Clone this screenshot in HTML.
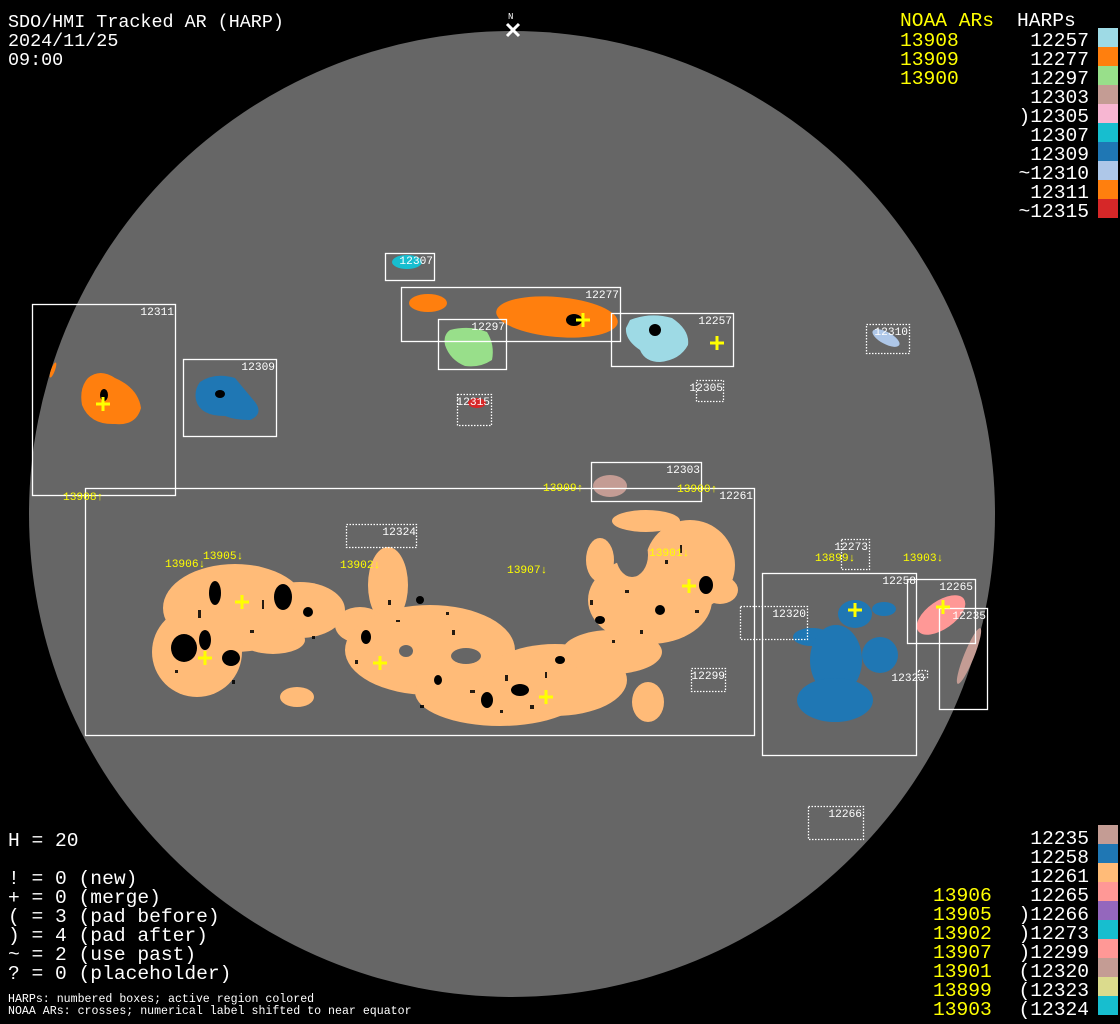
<!DOCTYPE html>
<html><head><meta charset="utf-8"><style>
html,body{margin:0;padding:0;background:#000;}
svg{display:block;}
.t{font-family:"Liberation Mono","DejaVu Sans Mono",monospace;font-size:19.6px;fill:#fff;}
.tt{font-family:"Liberation Mono","DejaVu Sans Mono",monospace;font-size:18.4px;fill:#fff;}
.y{fill:#ffff00;}
.s{font-family:"Liberation Mono","DejaVu Sans Mono",monospace;font-size:11.2px;fill:#fff;}
.sm{font-family:"Liberation Mono","DejaVu Sans Mono",monospace;font-size:11.6px;fill:#fff;}
.sy{font-family:"Liberation Mono","DejaVu Sans Mono",monospace;font-size:11.2px;fill:#ffff00;}
.b{fill:none;stroke:#fff;stroke-width:1.3;}
.d{fill:none;stroke:#fff;stroke-width:1.3;stroke-dasharray:1.5 1.5;}
.c{stroke:#ffff00;stroke-width:3;}
</style></head><body>
<svg width="1120" height="1024" viewBox="0 0 1120 1024" xmlns="http://www.w3.org/2000/svg">
<rect width="1120" height="1024" fill="#000"/>
<circle cx="512" cy="514" r="483" fill="#666"/>

<text x="508" y="19" font-family="Liberation Mono,monospace" font-size="9" fill="#fff">N</text>
<path d="M507 24 L519 36 M519 24 L507 36" stroke="#fff" stroke-width="3"/>

<g fill="#ff7f0e">
<path d="M88 378 Q100 368 115 378 Q138 388 141 408 Q136 426 115 424 Q90 425 82 405 Q79 388 88 378Z"/>
<ellipse cx="53" cy="370" rx="2" ry="8" transform="rotate(20 53 370)"/>
<ellipse cx="428" cy="303" rx="19" ry="9"/>
<ellipse cx="557" cy="317" rx="61" ry="20" transform="rotate(5 557 317)"/>
</g>
<path d="M200 382 Q215 372 235 378 Q245 390 255 402 Q264 414 250 420 Q235 420 225 416 Q200 416 196 400 Q194 390 200 382Z" fill="#1f77b4"/>
<ellipse cx="407" cy="262" rx="15" ry="7" fill="#17becf"/>
<path d="M450 330 Q470 325 487 332 Q495 345 492 360 Q480 368 465 366 Q450 360 445 345 Q443 335 450 330Z" fill="#98df8a"/>
<path d="M630 320 Q650 312 672 318 Q690 330 688 345 Q680 360 660 362 Q645 362 640 350 Q625 340 626 328Z" fill="#9edae5"/>
<ellipse cx="477" cy="403" rx="9" ry="5" fill="#d62728"/>
<ellipse cx="610" cy="486" rx="17" ry="11" fill="#c49c94"/>
<ellipse cx="886" cy="338" rx="15" ry="6" transform="rotate(28 886 338)" fill="#aec7e8"/>
<ellipse cx="941" cy="615" rx="28" ry="14" transform="rotate(-35 941 615)" fill="#ff9896"/>
<ellipse cx="969" cy="656" rx="5" ry="30" transform="rotate(22 969 656)" fill="#c49c94"/>

<g fill="#ffbb78">
<ellipse cx="235" cy="608" rx="72" ry="44"/>
<ellipse cx="197" cy="652" rx="45" ry="45"/>
<ellipse cx="300" cy="610" rx="45" ry="28"/>
<ellipse cx="273" cy="640" rx="32" ry="14"/>
<ellipse cx="388" cy="585" rx="20" ry="38"/>
<ellipse cx="360" cy="625" rx="25" ry="18"/>
<ellipse cx="430" cy="650" rx="85" ry="45"/>
<ellipse cx="500" cy="692" rx="85" ry="34"/>
<ellipse cx="555" cy="680" rx="72" ry="36"/>
<ellipse cx="612" cy="652" rx="50" ry="22"/>
<ellipse cx="650" cy="600" rx="62" ry="44"/>
<ellipse cx="646" cy="521" rx="34" ry="11"/>
<ellipse cx="690" cy="565" rx="45" ry="45"/>
<ellipse cx="600" cy="560" rx="14" ry="22"/>
<ellipse cx="720" cy="590" rx="18" ry="14"/>
<ellipse cx="297" cy="697" rx="17" ry="10"/>
<ellipse cx="648" cy="702" rx="16" ry="20"/>
</g>
<g fill="#666">
<ellipse cx="632" cy="555" rx="16" ry="22"/>
<ellipse cx="466" cy="656" rx="15" ry="8"/>
<ellipse cx="406" cy="651" rx="7" ry="6"/>
<ellipse cx="330" cy="680" rx="12" ry="10"/>
</g>
<g fill="#000">
<ellipse cx="215" cy="593" rx="6" ry="12"/>
<ellipse cx="283" cy="597" rx="9" ry="13"/>
<ellipse cx="184" cy="648" rx="13" ry="14"/>
<ellipse cx="231" cy="658" rx="9" ry="8"/>
<ellipse cx="205" cy="640" rx="6" ry="10"/>
<ellipse cx="366" cy="637" rx="5" ry="7"/>
<ellipse cx="706" cy="585" rx="7" ry="9"/>
<ellipse cx="520" cy="690" rx="9" ry="6"/>
<ellipse cx="487" cy="700" rx="6" ry="8"/>
<ellipse cx="574" cy="320" rx="8" ry="6"/>
<ellipse cx="655" cy="330" rx="6" ry="6"/>
<ellipse cx="104" cy="395" rx="4" ry="6"/>
<ellipse cx="220" cy="394" rx="5" ry="4"/>
<ellipse cx="420" cy="600" rx="4" ry="4"/>
<ellipse cx="438" cy="680" rx="4" ry="5"/>
<ellipse cx="600" cy="620" rx="5" ry="4"/>
<ellipse cx="660" cy="610" rx="5" ry="5"/>
<ellipse cx="560" cy="660" rx="5" ry="4"/>
<ellipse cx="308" cy="612" rx="5" ry="5"/>
</g>
<g fill="#000" opacity="0.85">
<rect x="198" y="610" width="3" height="8"/><rect x="250" y="630" width="4" height="3"/><rect x="262" y="600" width="2" height="9"/>
<rect x="312" y="636" width="3" height="3"/><rect x="396" y="620" width="4" height="2"/><rect x="452" y="630" width="3" height="5"/>
<rect x="470" y="690" width="5" height="3"/><rect x="505" y="675" width="3" height="6"/><rect x="530" y="705" width="4" height="4"/>
<rect x="500" y="710" width="3" height="3"/><rect x="545" y="672" width="2" height="6"/><rect x="590" y="600" width="3" height="5"/>
<rect x="625" y="590" width="4" height="3"/><rect x="640" y="630" width="3" height="4"/><rect x="680" y="545" width="2" height="8"/>
<rect x="695" y="610" width="4" height="3"/><rect x="665" y="560" width="3" height="4"/><rect x="612" y="640" width="3" height="3"/>
<rect x="355" y="660" width="3" height="4"/><rect x="420" y="705" width="4" height="3"/><rect x="446" y="612" width="3" height="3"/>
<rect x="232" y="680" width="3" height="4"/><rect x="175" y="670" width="3" height="3"/><rect x="388" y="600" width="3" height="5"/>
<rect x="822" y="690" width="4" height="2"/><rect x="840" y="705" width="3" height="4"/><rect x="850" y="665" width="3" height="3"/>
</g>

<g fill="#1f77b4">
<ellipse cx="855" cy="614" rx="17" ry="14"/>
<ellipse cx="884" cy="609" rx="12" ry="7"/>
<ellipse cx="812" cy="637" rx="19" ry="9"/>
<ellipse cx="836" cy="660" rx="26" ry="35"/>
<ellipse cx="880" cy="655" rx="18" ry="18"/>
<ellipse cx="835" cy="700" rx="38" ry="22"/>
</g>

<rect class="b" x="32.5" y="304.5" width="143" height="191"/>
<rect class="b" x="183.5" y="359.5" width="93" height="77"/>
<rect class="b" x="385.5" y="253.5" width="49" height="27"/>
<rect class="b" x="401.5" y="287.5" width="219" height="54"/>
<rect class="b" x="438.5" y="319.5" width="68" height="50"/>
<rect class="b" x="611.5" y="313.5" width="122" height="53"/>
<rect class="b" x="591.5" y="462.5" width="110" height="39"/>
<rect class="b" x="85.5" y="488.5" width="669" height="247"/>
<rect class="b" x="762.5" y="573.5" width="154" height="182"/>
<rect class="b" x="907.5" y="579.5" width="68" height="64"/>
<rect class="b" x="939.5" y="608.5" width="48" height="101"/>
<rect class="d" x="696.5" y="380.5" width="27" height="21"/>
<rect class="d" x="457.5" y="394.5" width="34" height="31"/>
<rect class="d" x="346.5" y="524.5" width="70" height="23"/>
<rect class="d" x="691.5" y="668.5" width="34" height="23"/>
<rect class="d" x="740.5" y="606.5" width="67" height="33"/>
<rect class="d" x="841.5" y="539.5" width="28" height="30"/>
<rect class="d" x="918.5" y="670.5" width="9" height="7"/>
<rect class="d" x="808.5" y="806.5" width="55" height="33"/>
<rect class="d" x="866.5" y="324.5" width="43" height="29"/>

<g class="s" text-anchor="end">
<text x="174" y="315">12311</text>
<text x="275" y="370">12309</text>
<text x="433" y="264">12307</text>
<text x="619" y="298">12277</text>
<text x="505" y="330">12297</text>
<text x="732" y="324">12257</text>
<text x="723" y="391">12305</text>
<text x="490" y="405">12315</text>
<text x="700" y="473">12303</text>
<text x="753" y="499">12261</text>
<text x="416" y="535">12324</text>
<text x="725" y="679">12299</text>
<text x="806" y="617">12320</text>
<text x="868" y="550">12273</text>
<text x="916" y="584">12258</text>
<text x="973" y="590">12265</text>
<text x="986" y="619">12235</text>
<text x="925" y="681">12323</text>
<text x="908" y="335">12310</text>
<text x="862" y="817">12266</text>
</g>

<g class="sy">
<text x="63" y="500">13908↑</text>
<text x="543" y="491">13909↑</text>
<text x="677" y="492">13900↑</text>
<text x="165" y="567">13906↓</text>
<text x="203" y="559">13905↓</text>
<text x="340" y="568">13902↓</text>
<text x="507" y="573">13907↓</text>
<text x="649" y="556">13901↓</text>
<text x="815" y="561">13899↓</text>
<text x="903" y="561">13903↓</text>
</g>

<g class="c">
<path d="M96 404h14M103 397v14"/>
<path d="M576 320h14M583 313v14"/>
<path d="M710 343h14M717 336v14"/>
<path d="M198 658h14M205 651v14"/>
<path d="M235 602h14M242 595v14"/>
<path d="M373 663h14M380 656v14"/>
<path d="M539 697h14M546 690v14"/>
<path d="M682 586h14M689 579v14"/>
<path d="M848 610h14M855 603v14"/>
<path d="M936 607h14M943 600v14"/>
</g>

<text class="tt" x="8" y="27">SDO/HMI Tracked AR (HARP)</text>
<text class="tt" x="8" y="46">2024/11/25</text>
<text class="tt" x="8" y="65">09:00</text>

<text class="t y" x="900" y="26">NOAA ARs</text>
<text class="t" x="1017" y="26">HARPs</text>
<text class="t y" x="900" y="46">13908</text>
<text class="t y" x="900" y="65">13909</text>
<text class="t y" x="900" y="84">13900</text>
<g class="t" text-anchor="end">
<text x="1089" y="46">12257</text>
<text x="1089" y="65">12277</text>
<text x="1089" y="84">12297</text>
<text x="1089" y="103">12303</text>
<text x="1089" y="122">)12305</text>
<text x="1089" y="141">12307</text>
<text x="1089" y="160">12309</text>
<text x="1089" y="179">~12310</text>
<text x="1089" y="198">12311</text>
<text x="1089" y="217">~12315</text>
</g>
<rect x="1098" y="28" width="20" height="19" fill="#9edae5"/>
<rect x="1098" y="47" width="20" height="19" fill="#ff7f0e"/>
<rect x="1098" y="66" width="20" height="19" fill="#98df8a"/>
<rect x="1098" y="85" width="20" height="19" fill="#c49c94"/>
<rect x="1098" y="104" width="20" height="19" fill="#f7b6d2"/>
<rect x="1098" y="123" width="20" height="19" fill="#17becf"/>
<rect x="1098" y="142" width="20" height="19" fill="#1f77b4"/>
<rect x="1098" y="161" width="20" height="19" fill="#aec7e8"/>
<rect x="1098" y="180" width="20" height="19" fill="#ff7f0e"/>
<rect x="1098" y="199" width="20" height="19" fill="#d62728"/>

<text class="t" x="8" y="846">H = 20</text>
<text class="t" x="8" y="884">! = 0 (new)</text>
<text class="t" x="8" y="903">+ = 0 (merge)</text>
<text class="t" x="8" y="922">( = 3 (pad before)</text>
<text class="t" x="8" y="941">) = 4 (pad after)</text>
<text class="t" x="8" y="960">~ = 2 (use past)</text>
<text class="t" x="8" y="979">? = 0 (placeholder)</text>
<text class="sm" x="8" y="1002">HARPs: numbered boxes; active region colored</text>
<text class="sm" x="8" y="1014">NOAA ARs: crosses; numerical label shifted to near equator</text>

<g class="t y">
<text x="933" y="901">13906</text>
<text x="933" y="920">13905</text>
<text x="933" y="939">13902</text>
<text x="933" y="958">13907</text>
<text x="933" y="977">13901</text>
<text x="933" y="996">13899</text>
<text x="933" y="1015">13903</text>
</g>
<g class="t" text-anchor="end">
<text x="1089" y="844">12235</text>
<text x="1089" y="863">12258</text>
<text x="1089" y="882">12261</text>
<text x="1089" y="901">12265</text>
<text x="1089" y="920">)12266</text>
<text x="1089" y="939">)12273</text>
<text x="1089" y="958">)12299</text>
<text x="1089" y="977">(12320</text>
<text x="1089" y="996">(12323</text>
<text x="1089" y="1015">(12324</text>
</g>
<rect x="1098" y="825" width="20" height="19" fill="#c49c94"/>
<rect x="1098" y="844" width="20" height="19" fill="#1f77b4"/>
<rect x="1098" y="863" width="20" height="19" fill="#ffbb78"/>
<rect x="1098" y="882" width="20" height="19" fill="#ff9896"/>
<rect x="1098" y="901" width="20" height="19" fill="#9467bd"/>
<rect x="1098" y="920" width="20" height="19" fill="#17becf"/>
<rect x="1098" y="939" width="20" height="19" fill="#ff9896"/>
<rect x="1098" y="958" width="20" height="19" fill="#c49c94"/>
<rect x="1098" y="977" width="20" height="19" fill="#dbdb8d"/>
<rect x="1098" y="996" width="20" height="19" fill="#17becf"/>
</svg>
</body></html>
